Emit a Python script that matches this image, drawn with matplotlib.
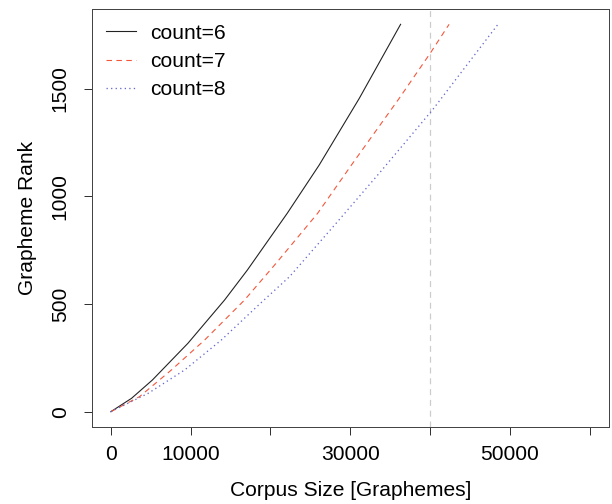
import matplotlib
matplotlib.use("Agg")
import matplotlib.pyplot as plt

plt.rcParams['font.family'] = ['Liberation Sans', 'DejaVu Sans']

# values (corpus size vs. grapheme rank)
black_x = [0, 2590, 5200, 9660, 14250, 17100, 22100, 26100, 31125, 36300]
black_y = [0, 62, 147, 318, 519, 658, 922, 1146, 1456, 1800]

red_x = [0, 3600, 7590, 11750, 16750, 20710, 25910, 30290, 36125, 40000, 42375]
red_y = [0, 70, 194, 333, 519, 690, 922, 1154, 1456, 1665, 1800]

blue_x = [0, 4660, 9250, 13840, 18750, 22375, 28210, 33625, 40290, 48500]
blue_y = [0, 85, 194, 333, 504, 627, 875, 1108, 1402, 1800]

vline_x = 40000
x_ticks = [0, 10000, 20000, 30000, 40000, 50000, 60000]
x_labels = ['0', '10000', '', '30000', '', '50000', '']
y_ticks = [0, 500, 1000, 1500]

fig = plt.figure(figsize=(8.5, 7), dpi=72)
ax = fig.add_axes([0.1498, 0.1524, 0.995 - 0.1498, 0.9825 - 0.1524])

ax.axvline(vline_x, color='#cccccc', linestyle=(0, (5, 4)), lw=1.2)
ax.plot(black_x, black_y, color='#222222', lw=1.1, label='count=6')
ax.plot(red_x, red_y, color='#f4563a', lw=1.1, linestyle=(0, (5, 4)), label='count=7')
ax.plot(blue_x, blue_y, color='#6468cc', lw=1.3, linestyle=(0, (1, 2.5)), label='count=8')

ax.set_xlim(-2400, 62400)
ax.set_ylim(-72, 1872)
ax.set_xticks(x_ticks)
ax.set_xticklabels(x_labels)
ax.set_yticks(y_ticks)
ax.set_yticklabels([str(v) for v in y_ticks], rotation=90, va='center')
ax.tick_params(direction='out', length=8, width=1, colors='#333333',
               labelcolor='black', labelsize=21)
ax.tick_params(axis='x', pad=10)
ax.tick_params(axis='y', pad=14)
for s in ax.spines.values():
    s.set_color('#444444')
    s.set_linewidth(1)

ax.set_xlabel('Corpus Size [Graphemes]', fontsize=21, labelpad=17)
ax.set_ylabel('Grapheme Rank', fontsize=21, labelpad=14)

ax.legend(loc='upper left', frameon=False, fontsize=21, handlelength=1.4,
          handletextpad=0.7, labelspacing=0.45, borderaxespad=0.3)

fig.savefig('out.png', dpi=72)
